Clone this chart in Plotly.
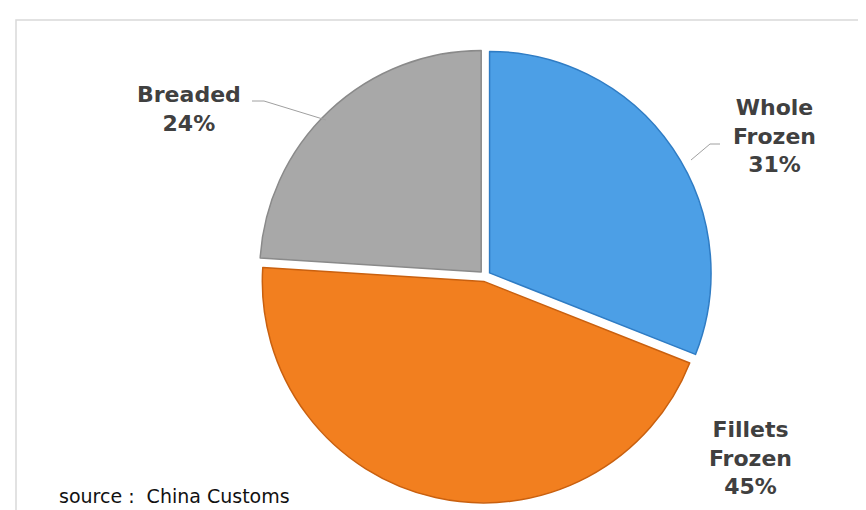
import plotly.graph_objects as go

categories = ["Whole Frozen", "Fillets Frozen", "Breaded"]
values = [31, 45, 24]
label_lines = ["Whole<br>Frozen", "Fillets<br>Frozen", "Breaded"]
colors = ["#4C9FE6", "#F27F1F", "#A8A8A8"]
edge_colors = ["#2F7CC4", "#C9600F", "#8A8A8A"]
source_text = "source :  China Customs"

W, H = 866, 510

fig = go.Figure()
fig.add_trace(go.Pie(
    labels=categories,
    values=values,
    sort=False,
    direction="clockwise",
    rotation=0,
    pull=[0.025, 0.025, 0.025],
    marker=dict(colors=colors, line=dict(color=edge_colors, width=1.5)),
    textinfo="none",
    hoverinfo="label+percent",
    showlegend=False,
    domain=dict(x=[250 / W, 704 / W], y=[1 - 495 / H, 1 - 41 / H]),
))

def px(x):
    return x / W

def py(y):
    return 1 - y / H

label_pos = [(766, 128), (742, 450), (181, 101)]
total = sum(values)
annotations = []
for lab, v, (x, y) in zip(label_lines, values, label_pos):
    pct = round(100 * v / total)
    annotations.append(dict(
        x=px(x), y=py(y), xref="paper", yref="paper",
        text=f"<b>{lab}<br>{pct}%</b>", showarrow=False,
        xanchor="center", yanchor="middle", align="center",
        font=dict(family="DejaVu Sans", size=22, color="#404040"),
    ))
annotations.append(dict(
    x=px(49), y=py(488), xref="paper", yref="paper",
    text=source_text, showarrow=False, xanchor="left", yanchor="middle",
    font=dict(family="DejaVu Sans", size=19, color="#111111"),
))

shapes = [
    dict(type="rect", xref="paper", yref="paper",
         x0=px(8), y0=-0.05, x1=1.05, y1=py(12),
         line=dict(color="#D9D9D9", width=1.5), fillcolor="rgba(0,0,0,0)", layer="below"),
    dict(type="path", xref="paper", yref="paper",
         path=f"M {px(244)} {py(93)} L {px(256)} {py(93)} L {px(318)} {py(112)}",
         line=dict(color="#A0A0A0", width=1)),
    dict(type="path", xref="paper", yref="paper",
         path=f"M {px(712)} {py(136)} L {px(702)} {py(136)} L {px(683)} {py(152)}",
         line=dict(color="#A0A0A0", width=1)),
]

fig.update_layout(
    width=W, height=H,
    margin=dict(l=0, r=0, t=0, b=0),
    paper_bgcolor="white", plot_bgcolor="white",
    annotations=annotations, shapes=shapes,
)

fig.write_html("out.html")
